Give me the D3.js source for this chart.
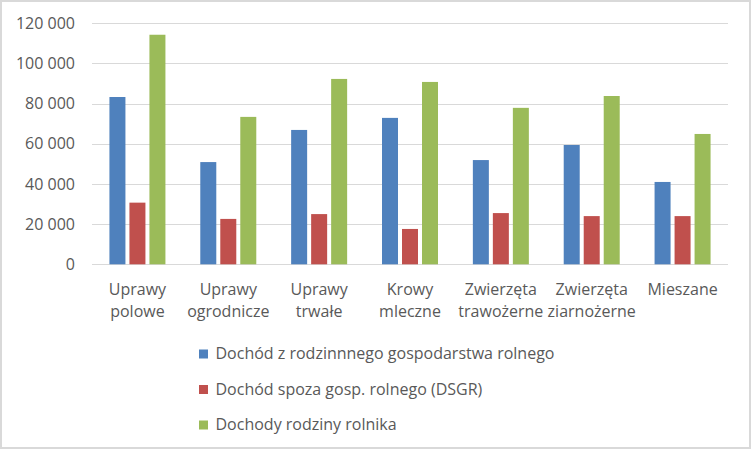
<!DOCTYPE html>
<html><head><meta charset="utf-8">
<script src="https://cdn.jsdelivr.net/npm/d3@7"></script>
<style>body{margin:0;background:#fff}svg{display:block}</style>
</head><body>
<svg id="c" width="752" height="452"></svg>
<script>
const categories = [["Uprawy","polowe"],["Uprawy","ogrodnicze"],["Uprawy","trwałe"],["Krowy","mleczne"],["Zwierzęta","trawożerne"],["Zwierzęta","ziarnożerne"],["Mieszane"]];
const seriesNames = ["Dochód z rodzinnnego gospodarstwa rolnego","Dochód spoza gosp. rolnego (DSGR)","Dochody rodziny rolnika"];
const farmIncome = [83300, 50900, 66900, 72900, 51900, 59400, 41000];
const offFarmIncome = [30700, 22600, 25000, 17600, 25500, 24000, 24000];
const familyIncome = [114300, 73400, 92300, 90800, 77900, 83800, 64900];
const yTicks = [0, 20000, 40000, 60000, 80000, 100000, 120000];
const colors = ["#4f81bd", "#c0504d", "#9bbb59"];

(function(){
const series = [farmIncome, offFarmIncome, familyIncome];
const svg = d3.select("#c");
const font = "'Open Sans', sans-serif";
const textColor = "#595959";

svg.append("rect").attr("x",1).attr("y",1).attr("width",749).attr("height",447)
  .attr("fill","#fff").attr("stroke","#d9d9d9").attr("stroke-width",2);

const pLeft = 92, pRight = 728, pTop = 23.3, pBottom = 264.3;
const x = d3.scaleBand().domain(d3.range(categories.length)).range([pLeft, pRight]);
const y = d3.scaleLinear().domain([0, 120000]).range([pBottom, pTop]);
const inner = d3.scaleBand().domain(d3.range(3)).range([0, 56]).paddingInner(0.2);

svg.append("g").selectAll("line").data(yTicks).join("line")
  .attr("x1", pLeft).attr("x2", pRight)
  .attr("y1", d => Math.round(y(d)) + 0.5).attr("y2", d => Math.round(y(d)) + 0.5)
  .attr("stroke", "#d9d9d9").attr("stroke-width", 1);

const fmt = v => d3.format(",")(v).replace(/,/g, " ");
svg.append("g").selectAll("text").data(yTicks).join("text")
  .attr("x", 75).attr("y", d => y(d)).attr("dy", "0.35em")
  .attr("text-anchor", "end").attr("font-family", font).attr("font-size", 16)
  .attr("fill", textColor).text(fmt);

const groups = svg.append("g").selectAll("g").data(categories).join("g")
  .attr("transform", (d, i) => `translate(${x(i) + x.bandwidth()/2 - 28},0)`);
groups.selectAll("rect").data((d, i) => series.map((s, k) => ({k, v: s[i]}))).join("rect")
  .attr("x", d => inner(d.k)).attr("width", inner.bandwidth())
  .attr("y", d => y(d.v)).attr("height", d => y(0) - y(d.v))
  .attr("fill", d => colors[d.k]);

const cl = svg.append("g").selectAll("text").data(categories).join("text")
  .attr("x", (d, i) => x(i) + x.bandwidth()/2).attr("y", 295)
  .attr("text-anchor", "middle").attr("font-family", font).attr("font-size", 16)
  .attr("fill", textColor);
cl.selectAll("tspan").data(d => d).join("tspan")
  .attr("x", function(){ return this.parentNode.getAttribute("x"); })
  .attr("dy", (d, j) => j ? 21.5 : 0).text(d => d);

const lg = svg.append("g").selectAll("g").data(seriesNames).join("g")
  .attr("transform", (d, i) => `translate(199,${359 + i*35.5})`);
lg.append("rect").attr("x", 0).attr("y", -9.5).attr("width", 9).attr("height", 9)
  .attr("fill", (d, i) => colors[i]);
lg.append("text").attr("x", 16.5).attr("y", 0).attr("font-family", font).attr("font-size", 16)
  .attr("fill", textColor).text(d => d);
})();
</script>
</body></html>
